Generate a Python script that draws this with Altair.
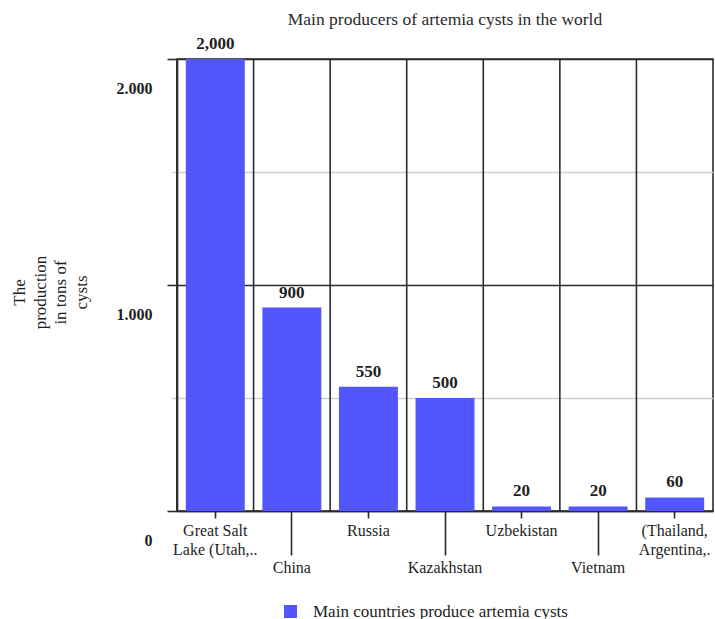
import json

import altair as alt
import pandas as pd

# Artemia cyst production by producer (tons)
categories = [
    "Great Salt Lake (Utah,..",
    "China",
    "Russia",
    "Kazakhstan",
    "Uzbekistan",
    "Vietnam",
    "(Thailand, Argentina,..",
]
label_lines = [
    ["Great Salt", "Lake (Utah,.."],
    ["China"],
    ["Russia"],
    ["Kazakhstan"],
    ["Uzbekistan"],
    ["Vietnam"],
    ["(Thailand,", "Argentina,."],
]
production = [2000, 900, 550, 500, 20, 20, 60]
series_name = "Main countries produce artemia cysts"
y_ticks = [0, 500, 1000, 1500, 2000]

FONT = "Liberation Serif"
BLUE = "#5257fd"
INK = "#1e1e1e"
LINE = "#2b2b2b"

df = pd.DataFrame({"country": categories, "tons": production, "series": series_name})

# every other label hangs on a long tick so neighbouring names don't collide
lower_row = categories[1::2]
lower_test = "indexof(%s, datum.value) >= 0" % json.dumps(lower_row)

label_expr = "datum.label"
for name, lines in reversed(list(zip(categories, label_lines))):
    label_expr = "datum.value == %s ? %s : (%s)" % (json.dumps(name), json.dumps(lines), label_expr)

x_enc = alt.X(
    "country:N",
    sort=categories,
    scale=alt.Scale(paddingInner=0, paddingOuter=0),
    axis=alt.Axis(
        title=None,
        grid=False,
        labelAngle=0,
        labelAlign="center",
        labelFont=FONT,
        labelFontSize=16,
        labelColor=INK,
        labelLineHeight=19,
        labelBaseline="top",
        labelOverlap=False,
        labelBound=False,
        labelFlush=False,
        labelExpr=label_expr,
        labelPadding=4.5,
        tickSize={"condition": {"test": lower_test, "value": 44}, "value": 7},
        tickColor=LINE,
        tickWidth=1.6,
        domainColor=LINE,
        domainWidth=1.6,
    ),
)

y_scale = alt.Scale(domain=[0, 2000], nice=False)
major = "datum.value % 1000 === 0"

y_axis = alt.Axis(
    title=["The", "production", "in tons of", "cysts"],
    titleFont=FONT,
    titleFontSize=17,
    titleFontWeight="normal",
    titleColor=INK,
    titleLineHeight=20.5,
    titlePadding=26,
    titleY=233,
    values=y_ticks,
    labelExpr="datum.value % 1000 === 0 ? replace(format(datum.value, ','), ',', '.') : ''",
    labelFont=FONT,
    labelFontSize=16,
    labelFontWeight="bold",
    labelColor=INK,
    labelOffset=29,
    labelPadding=15,
    labelBaseline="middle",
    grid=True,
    gridColor={"condition": {"test": major, "value": LINE}, "value": "#cfcfcf"},
    gridWidth={"condition": {"test": major, "value": 1.6}, "value": 1.3},
    gridOpacity=1,
    tickSize={"condition": {"test": major, "value": 10}, "value": 5},
    tickColor={"condition": {"test": major, "value": LINE}, "value": "#cfcfcf"},
    tickWidth=1.6,
    domainColor=LINE,
    domainWidth=1.6,
)

base = alt.Chart(df)

# vertical separators at the left edge of every category band
separators = base.mark_rule(color=LINE, strokeWidth=1.6).encode(
    x=alt.X("country:N", sort=categories, bandPosition=0)
)

bars = base.mark_bar(width=alt.RelativeBandSize(0.77)).encode(
    x=x_enc,
    y=alt.Y("tons:Q", scale=y_scale, axis=y_axis),
    color=alt.Color(
        "series:N",
        scale=alt.Scale(domain=[series_name], range=[BLUE]),
        legend=alt.Legend(
            title=None,
            orient="none",
            legendX=105,
            legendY=544,
            symbolType="square",
            symbolSize=169,
            symbolStrokeWidth=0,
            symbolOpacity=1,
            labelFont=FONT,
            labelFontSize=17,
            labelColor=INK,
            labelOffset=14,
            labelLimit=400,
        ),
    ),
)

values = base.mark_text(
    baseline="bottom", dy=-6, font=FONT, fontSize=17, fontWeight="bold", color=INK
).encode(
    x=alt.X("country:N", sort=categories),
    y=alt.Y("tons:Q", scale=y_scale),
    text=alt.Text("tons:Q", format=","),
)

chart = (
    alt.layer(separators, bars, values)
    .properties(
        width=536,
        height=452,
        title=alt.TitleParams(
            "Main producers of artemia cysts in the world",
            font=FONT,
            fontSize=17.5,
            fontWeight="normal",
            color="#2a2a2a",
            anchor="middle",
            frame="group",
            baseline="alphabetic",
            offset=12,
            dy=19,
        ),
        autosize=alt.AutoSizeParams(type="none"),
        padding={"left": 177, "top": 59, "right": 2, "bottom": 108},
    )
    .configure_view(stroke=LINE, strokeWidth=1.6)
)

chart.save("out.html", embed_options={"renderer": "svg", "actions": False})
